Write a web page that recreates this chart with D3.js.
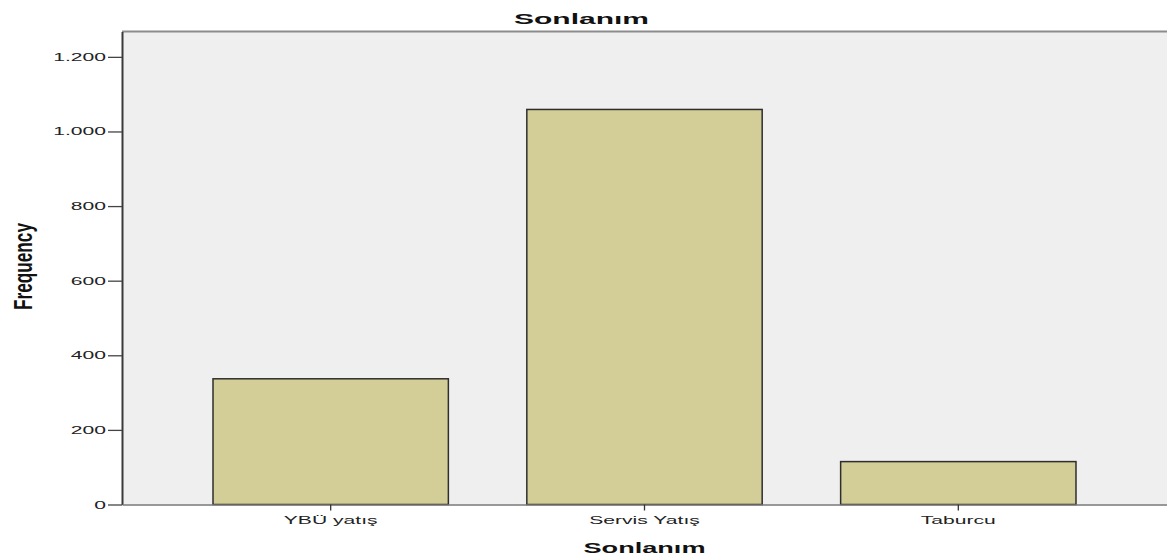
<!DOCTYPE html>
<meta charset="utf-8">
<style>
  body { margin: 0; background: #fff; font-family: "Liberation Sans", Arial, sans-serif; }
</style>
<body>
<svg></svg>
<script src="https://d3js.org/d3.v7.min.js"></script>
<script>
// data
var categories = ["YBÜ yatış", "Servis Yatış", "Taburcu"];
var frequencies = [337, 1059, 115];
var yTicks = [0, 200, 400, 600, 800, 1000, 1200];
var chartTitle = "Sonlanım";
var xTitle = "Sonlanım";
var yTitle = "Frequency";

var width = 1167, height = 557;
var stretch = 1.92; // the original picture is squashed sideways, text looks wide

var plot = { left: 122, right: 1167, top: 31.5, bottom: 504.5 };

var svg = d3.select("svg").attr("width", width).attr("height", height);

var trLocale = d3.formatLocale({ decimal: ",", thousands: ".", grouping: [3], currency: ["", ""] });
var fmt = trLocale.format(",d");

var x = d3.scaleBand()
    .domain(categories)
    .range([plot.left, plot.right])
    .paddingInner(0.25)
    .paddingOuter(0.29);

var y = d3.scaleLinear()
    .domain([0, 1268])
    .range([plot.bottom, plot.top]);

// plot background
svg.append("rect")
    .attr("x", plot.left).attr("y", plot.top)
    .attr("width", plot.right - plot.left).attr("height", plot.bottom - plot.top)
    .attr("fill", "#efefef");

// top border
svg.append("line")
    .attr("x1", plot.left).attr("x2", plot.right)
    .attr("y1", plot.top).attr("y2", plot.top)
    .attr("stroke", "#8c8c8c").attr("stroke-width", 2);

// bars
svg.selectAll(".bar")
    .data(frequencies)
    .enter().append("rect")
    .attr("class", "bar")
    .attr("x", function (d, i) { return x(categories[i]); })
    .attr("y", function (d) { return y(d); })
    .attr("width", x.bandwidth())
    .attr("height", function (d) { return y(0) - y(d); })
    .attr("fill", "#d3ce97")
    .attr("stroke", "#2e2e2e")
    .attr("stroke-width", 1.5);

// y axis
var yAxis = svg.append("g")
    .attr("transform", "translate(" + plot.left + ",0)")
    .call(d3.axisLeft(y).tickValues(yTicks).tickFormat(fmt).tickSizeInner(14).tickSizeOuter(0).tickPadding(2));
yAxis.select(".domain").attr("stroke", "#3a3a3a").attr("stroke-width", 2);
yAxis.selectAll(".tick line").attr("stroke", "#444").attr("stroke-width", 1.3);
yAxis.selectAll(".tick text")
    .attr("x", 0)
    .attr("transform", "translate(-16,0) scale(" + stretch + ",1)")
    .attr("fill", "#222")
    .style("font-size", "11px")
    .style("font-family", "'Liberation Sans', Arial, sans-serif");

// x axis
var xAxis = svg.append("g")
    .attr("transform", "translate(0," + plot.bottom + ")")
    .call(d3.axisBottom(x).tickSizeInner(6).tickSizeOuter(0));
xAxis.select(".domain").attr("stroke", "#777").attr("stroke-width", 1.3);
xAxis.selectAll(".tick line").attr("stroke", "#333").attr("stroke-width", 1.3);
xAxis.selectAll(".tick text")
    .attr("y", 0).attr("dy", 0)
    .attr("transform", "translate(0,19.5) scale(" + stretch + ",1)")
    .attr("fill", "#222")
    .style("font-size", "11px")
    .style("font-family", "'Liberation Sans', Arial, sans-serif");

// titles
svg.append("text")
    .attr("transform", "translate(581.5,24) scale(2,1)")
    .attr("text-anchor", "middle")
    .attr("textLength", 67.5).attr("lengthAdjust", "spacingAndGlyphs")
    .style("font-size", "14px").style("font-weight", "bold")
    .attr("fill", "#111")
    .text(chartTitle);

svg.append("text")
    .attr("transform", "translate(" + (x(categories[1]) + x.bandwidth() / 2) + ",552.5) scale(2,1)")
    .attr("text-anchor", "middle")
    .attr("textLength", 61).attr("lengthAdjust", "spacingAndGlyphs")
    .style("font-size", "14px").style("font-weight", "bold")
    .attr("fill", "#111")
    .text(xTitle);

svg.append("text")
    .attr("transform", "translate(32,266.5) scale(2,1) rotate(-90)")
    .attr("text-anchor", "middle")
    .attr("textLength", 87).attr("lengthAdjust", "spacingAndGlyphs")
    .style("font-size", "13px").style("font-weight", "bold")
    .attr("fill", "#111")
    .text(yTitle);
</script>
</body>
